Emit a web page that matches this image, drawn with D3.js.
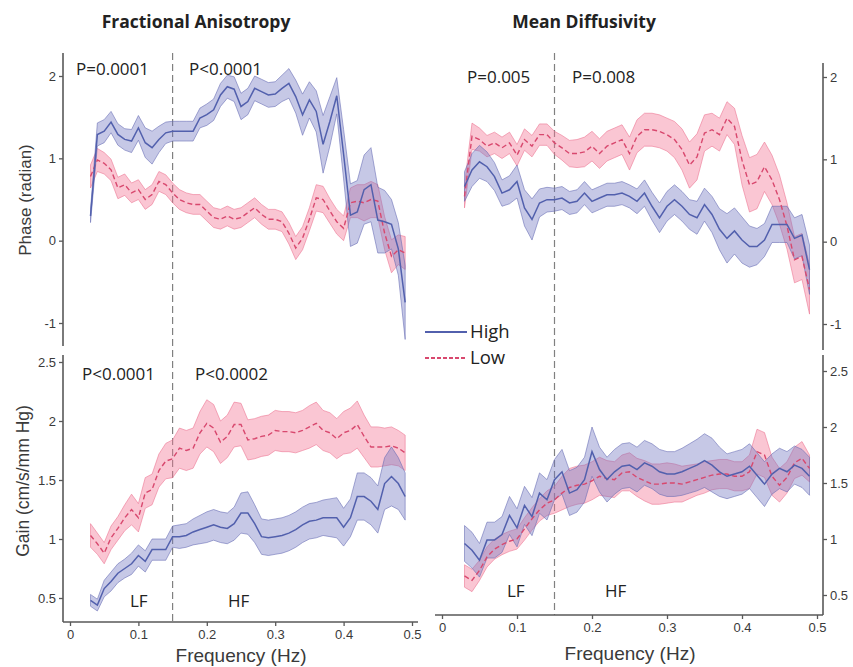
<!DOCTYPE html>
<html><head><meta charset="utf-8">
<script src="https://cdn.jsdelivr.net/npm/d3@7"></script>
<style>
body{margin:0;background:#fff;}
svg{display:block;}
</style></head><body>
<svg id="chart" width="853" height="667"></svg>
<script>
// ---------------- data ----------------
const freq = [0.03,0.04,0.05,0.06,0.07,0.08,0.09,0.10,0.11,0.12,0.13,0.14,0.15,0.16,0.17,0.18,0.19,0.20,0.21,0.22,0.23,0.24,0.25,0.26,0.27,0.28,0.29,0.30,0.31,0.32,0.33,0.34,0.35,0.36,0.37,0.38,0.39,0.40,0.41,0.42,0.43,0.44,0.45,0.46,0.47,0.48,0.49];

// Fractional Anisotropy - Phase
const faPhaseHigh   = [0.30,1.29,1.33,1.44,1.29,1.23,1.21,1.37,1.19,1.13,1.23,1.31,1.33,1.33,1.33,1.33,1.49,1.53,1.59,1.77,1.87,1.84,1.63,1.69,1.85,1.81,1.77,1.78,1.85,1.91,1.75,1.53,1.71,1.57,1.17,1.45,1.76,1.05,0.31,0.35,0.62,0.68,0.25,0.23,0.20,-0.10,-0.75];
const faPhaseHighSE = [0.08,0.14,0.14,0.13,0.13,0.13,0.14,0.15,0.18,0.20,0.16,0.13,0.12,0.12,0.12,0.12,0.12,0.13,0.13,0.14,0.14,0.15,0.16,0.16,0.15,0.15,0.15,0.15,0.16,0.18,0.20,0.25,0.22,0.25,0.35,0.30,0.22,0.30,0.38,0.38,0.42,0.45,0.40,0.38,0.30,0.32,0.45];
const faPhaseLow    = [0.78,0.98,0.94,0.86,0.64,0.68,0.58,0.62,0.50,0.56,0.72,0.68,0.58,0.50,0.46,0.44,0.44,0.36,0.28,0.26,0.30,0.26,0.28,0.34,0.40,0.32,0.26,0.26,0.23,0.09,-0.09,0.03,0.26,0.52,0.50,0.36,0.23,0.15,0.46,0.48,0.46,0.50,0.48,0.09,-0.19,-0.11,-0.15];
const faPhaseLowSE  = [0.14,0.14,0.13,0.13,0.13,0.13,0.12,0.12,0.12,0.12,0.12,0.12,0.12,0.12,0.12,0.12,0.12,0.12,0.12,0.12,0.12,0.12,0.12,0.12,0.12,0.12,0.12,0.12,0.12,0.13,0.14,0.14,0.14,0.16,0.16,0.15,0.15,0.15,0.18,0.20,0.22,0.22,0.20,0.20,0.20,0.18,0.20];

// Mean Diffusivity - Phase
const mdPhaseHigh   = [0.67,0.87,0.97,0.91,0.79,0.59,0.63,0.73,0.41,0.27,0.47,0.51,0.51,0.53,0.47,0.49,0.59,0.49,0.53,0.57,0.57,0.59,0.55,0.49,0.59,0.43,0.29,0.43,0.51,0.43,0.33,0.29,0.45,0.33,0.15,0.04,0.13,0.02,-0.06,-0.06,0.02,0.21,0.21,0.21,0.04,0.08,-0.34];
const mdPhaseHighSE = [0.18,0.20,0.20,0.18,0.17,0.16,0.17,0.20,0.22,0.25,0.17,0.15,0.14,0.14,0.14,0.14,0.14,0.14,0.14,0.14,0.14,0.14,0.14,0.15,0.16,0.17,0.18,0.18,0.18,0.18,0.18,0.20,0.20,0.22,0.25,0.30,0.28,0.28,0.25,0.22,0.20,0.22,0.22,0.22,0.25,0.25,0.30];
const mdPhaseLow    = [0.55,1.28,1.24,1.16,1.20,1.14,1.20,1.05,1.24,1.16,1.30,1.30,1.20,1.14,1.07,1.07,1.09,1.16,1.07,1.16,1.20,1.24,1.07,1.28,1.36,1.36,1.34,1.30,1.24,1.12,0.93,1.03,1.32,1.36,1.30,1.50,1.40,0.99,0.69,0.73,0.91,0.75,0.51,0.19,-0.22,-0.18,-0.58];
const mdPhaseLowSE  = [0.14,0.16,0.14,0.13,0.13,0.13,0.13,0.13,0.13,0.13,0.13,0.13,0.14,0.15,0.16,0.17,0.18,0.18,0.18,0.18,0.18,0.18,0.20,0.20,0.20,0.20,0.20,0.20,0.22,0.25,0.28,0.28,0.22,0.20,0.20,0.20,0.22,0.30,0.33,0.33,0.30,0.30,0.30,0.28,0.28,0.28,0.30];

// Fractional Anisotropy - Gain
const faGainHigh    = [0.48,0.44,0.58,0.64,0.71,0.75,0.79,0.86,0.81,0.91,0.91,0.91,1.02,1.02,1.03,1.06,1.08,1.10,1.12,1.10,1.09,1.13,1.22,1.22,1.13,1.02,1.01,1.02,1.03,1.05,1.08,1.12,1.15,1.16,1.18,1.18,1.18,1.10,1.18,1.36,1.36,1.32,1.25,1.47,1.53,1.47,1.36];
const faGainHighSE  = [0.05,0.05,0.07,0.08,0.08,0.08,0.09,0.09,0.09,0.09,0.09,0.09,0.09,0.10,0.10,0.11,0.12,0.13,0.13,0.13,0.13,0.14,0.17,0.18,0.16,0.15,0.15,0.15,0.15,0.15,0.15,0.15,0.15,0.15,0.15,0.16,0.17,0.16,0.16,0.20,0.20,0.20,0.20,0.22,0.25,0.22,0.20];
const faGainLow     = [1.03,0.96,0.88,1.01,1.09,1.18,1.25,1.18,1.39,1.42,1.58,1.66,1.68,1.77,1.75,1.77,1.90,1.98,1.94,1.82,1.87,1.97,1.97,1.84,1.85,1.87,1.88,1.92,1.91,1.91,1.90,1.92,1.95,1.98,1.92,1.90,1.85,1.90,1.92,1.97,1.87,1.78,1.78,1.78,1.79,1.77,1.73];
const faGainLowSE   = [0.10,0.09,0.09,0.10,0.10,0.11,0.13,0.12,0.13,0.13,0.14,0.15,0.16,0.17,0.17,0.17,0.18,0.20,0.20,0.18,0.18,0.19,0.18,0.17,0.17,0.17,0.17,0.17,0.17,0.17,0.17,0.17,0.18,0.18,0.17,0.17,0.17,0.18,0.19,0.20,0.18,0.17,0.17,0.16,0.16,0.15,0.15];

// Mean Diffusivity - Gain
const mdGainHigh    = [0.96,0.90,0.81,0.99,0.99,1.04,1.21,1.10,1.30,1.20,1.41,1.35,1.53,1.60,1.41,1.44,1.53,1.78,1.62,1.53,1.60,1.65,1.66,1.62,1.68,1.65,1.60,1.58,1.58,1.60,1.63,1.66,1.70,1.66,1.60,1.56,1.58,1.60,1.65,1.57,1.49,1.58,1.63,1.60,1.66,1.63,1.56];
const mdGainHighSE  = [0.16,0.16,0.15,0.16,0.16,0.16,0.17,0.17,0.17,0.17,0.18,0.18,0.18,0.20,0.20,0.20,0.20,0.22,0.20,0.20,0.20,0.20,0.20,0.20,0.20,0.20,0.20,0.20,0.20,0.21,0.22,0.23,0.24,0.24,0.22,0.20,0.20,0.20,0.20,0.20,0.20,0.18,0.18,0.18,0.17,0.17,0.17];
const mdGainLow     = [0.67,0.63,0.72,0.84,0.91,0.95,0.98,1.00,1.09,1.18,1.26,1.32,1.35,1.41,1.46,1.48,1.49,1.52,1.56,1.54,1.53,1.59,1.60,1.55,1.52,1.49,1.49,1.50,1.50,1.49,1.51,1.53,1.55,1.57,1.58,1.58,1.56,1.56,1.60,1.78,1.75,1.56,1.48,1.55,1.68,1.72,1.63];
const mdGainLowSE   = [0.10,0.10,0.09,0.09,0.09,0.09,0.09,0.09,0.10,0.10,0.10,0.11,0.12,0.15,0.17,0.17,0.17,0.17,0.17,0.16,0.16,0.16,0.17,0.17,0.18,0.18,0.18,0.18,0.17,0.16,0.15,0.14,0.14,0.13,0.13,0.13,0.13,0.13,0.15,0.20,0.20,0.17,0.15,0.14,0.14,0.15,0.12];

const phaseTicks = [-1,0,1,2];
const gainTicks  = [0.5,1,1.5,2,2.5];
const freqTicks  = [0,0.1,0.2,0.3,0.4,0.5];
const bandSplit  = 0.15;
const seriesNames = ["High","Low"];
const colTitles = ["Fractional Anisotropy","Mean Diffusivity"];
const pLabels = [["P=0.0001","P<0.0001"],["P=0.005","P=0.008"],["P<0.0001","P<0.0002"]];
const bandLabels = ["LF","HF"];

// ---------------- style ----------------
const BLUE = '#5260ad', RED = '#d8486e';
const BLUE_FILL = 'rgba(112,118,192,0.40)', RED_FILL = 'rgba(242,120,150,0.42)';
const BLUE_EDGE = 'rgba(98,104,178,0.7)', RED_EDGE = 'rgba(236,112,142,0.7)';
const AXIS = '#595959', TXT = '#3a3a3a';
const SANS = '"Liberation Sans", Arial, sans-serif';
const CAL = '"Open Sans", sans-serif';

const svg = d3.select('#chart');

// scales
const xL = d3.scaleLinear().domain([0,0.5]).range([70,412]);
const xR = d3.scaleLinear().domain([0,0.5]).range([442,817]);
const yPL = d3.scaleLinear().domain([-1,2]).range([323,76]);
const yPR = d3.scaleLinear().domain([-1,2]).range([324,77]);
const yGL = d3.scaleLinear().domain([0.5,2.5]).range([598,362]);
const yGR = d3.scaleLinear().domain([0.5,2.5]).range([595,371]);

// dashed LF/HF separators
svg.append('line').attr('x1',xL(bandSplit)).attr('x2',xL(bandSplit)).attr('y1',53).attr('y2',622)
  .attr('stroke','#808080').attr('stroke-width',1.2).attr('stroke-dasharray','7,4');
svg.append('line').attr('x1',xR(bandSplit)).attr('x2',xR(bandSplit)).attr('y1',53).attr('y2',615)
  .attr('stroke','#808080').attr('stroke-width',1.2).attr('stroke-dasharray','7,4');

function panel(x, y, high, highSE, low, lowSE) {
  const g = svg.append('g');
  const mk = (m, s) => freq.map((f,i)=>({f, m:m[i], s:s[i]}));
  const dH = mk(high, highSE), dL = mk(low, lowSE);
  const area = d3.area().x(d=>x(d.f)).y0(d=>y(d.m-d.s)).y1(d=>y(d.m+d.s));
  const line = d3.line().x(d=>x(d.f)).y(d=>y(d.m));
  g.append('path').attr('d', area(dL)).attr('fill', RED_FILL).attr('stroke', RED_EDGE).attr('stroke-width',0.8);
  g.append('path').attr('d', area(dH)).attr('fill', BLUE_FILL).attr('stroke', BLUE_EDGE).attr('stroke-width',0.8);
  g.append('path').attr('d', line(dL)).attr('fill','none').attr('stroke', RED).attr('stroke-width',1.4).attr('stroke-dasharray','5,3');
  g.append('path').attr('d', line(dH)).attr('fill','none').attr('stroke', BLUE).attr('stroke-width',1.5);
}
panel(xL, yPL, faPhaseHigh, faPhaseHighSE, faPhaseLow, faPhaseLowSE);
panel(xR, yPR, mdPhaseHigh, mdPhaseHighSE, mdPhaseLow, mdPhaseLowSE);
panel(xL, yGL, faGainHigh, faGainHighSE, faGainLow, faGainLowSE);
panel(xR, yGR, mdGainHigh, mdGainHighSE, mdGainLow, mdGainLowSE);

// axes
function styleAxis(g) {
  g.select('.domain').remove();
  g.selectAll('.tick line').attr('stroke', AXIS).attr('stroke-width',1.3);
  g.selectAll('.tick text').attr('fill', TXT).style('font-family', SANS).style('font-size','13px');
}
function yAxis(x0, scale, ticks, side, y1, y2) {
  const ax = (side==='left' ? d3.axisLeft(scale) : d3.axisRight(scale))
    .tickValues(ticks).tickSize(4).tickPadding(3).tickFormat(d=>String(d));
  const g = svg.append('g').attr('transform',`translate(${x0},0)`).call(ax);
  styleAxis(g);
  g.append('line').attr('x1',0).attr('x2',0).attr('y1',y1).attr('y2',y2).attr('stroke',AXIS).attr('stroke-width',1.6);
}
function xAxis(y0, scale, x1, x2) {
  const ax = d3.axisBottom(scale).tickValues(freqTicks).tickSize(4).tickPadding(4).tickFormat(d=>String(d));
  const g = svg.append('g').attr('transform',`translate(0,${y0})`).call(ax);
  styleAxis(g);
  g.append('line').attr('x1',x1).attr('x2',x2).attr('y1',0).attr('y2',0).attr('stroke',AXIS).attr('stroke-width',1.6);
}
yAxis(63, yPL, phaseTicks, 'left', 53, 346);
yAxis(63, yGL, gainTicks, 'left', 355, 622);
yAxis(823, yPR, phaseTicks, 'right', 63, 350);
yAxis(823, yGR, gainTicks, 'right', 355, 615);
xAxis(622, xL, 63, 418);
xAxis(615, xR, 435, 823);

// titles
svg.append('text').attr('x',196).attr('y',28).attr('text-anchor','middle')
  .style('font-family',CAL).style('font-weight','700').style('font-size','17.5px').attr('fill','#222').text(colTitles[0]);
svg.append('text').attr('x',584).attr('y',28).attr('text-anchor','middle')
  .style('font-family',CAL).style('font-weight','700').style('font-size','17.5px').attr('fill','#222').text(colTitles[1]);

// axis titles
svg.append('text').attr('transform','translate(31,200) rotate(-90)').attr('text-anchor','middle')
  .style('font-family',SANS).style('font-size','17px').attr('fill',TXT).text('Phase (radian)');
svg.append('text').attr('transform','translate(29,481) rotate(-90)').attr('text-anchor','middle')
  .style('font-family',SANS).style('font-size','17.5px').attr('fill',TXT).text('Gain (cm/s/mm Hg)');
svg.append('text').attr('x',241).attr('y',662).attr('text-anchor','middle')
  .style('font-family',SANS).style('font-size','19px').attr('fill',TXT).text('Frequency (Hz)');
svg.append('text').attr('x',630).attr('y',660).attr('text-anchor','middle')
  .style('font-family',SANS).style('font-size','19px').attr('fill',TXT).text('Frequency (Hz)');

// P labels and band labels
function label(x, y, t, size) {
  svg.append('text').attr('x',x).attr('y',y).style('font-family',CAL).style('font-size',size||'17px')
    .attr('fill','#222').text(t);
}
label(76, 75, pLabels[0][0]);
label(189, 75, pLabels[0][1]);
label(467, 83, pLabels[1][0]);
label(572, 83, pLabels[1][1]);
label(82, 380, pLabels[2][0]);
label(195, 380, pLabels[2][1]);
label(130, 607, bandLabels[0]);
label(228, 607, bandLabels[1]);
label(507, 597, bandLabels[0]);
label(605, 597, bandLabels[1]);

// legend
svg.append('line').attr('x1',425).attr('x2',467).attr('y1',332).attr('y2',332).attr('stroke',BLUE).attr('stroke-width',2);
svg.append('line').attr('x1',425).attr('x2',467).attr('y1',358).attr('y2',358).attr('stroke',RED).attr('stroke-width',2).attr('stroke-dasharray','4,2');
label(470, 338, seriesNames[0], '18.5px');
label(470, 364, seriesNames[1], '18.5px');
</script>
</body></html>
